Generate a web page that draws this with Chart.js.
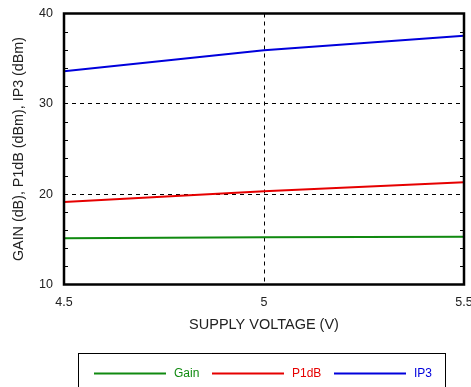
<!DOCTYPE html>
<html lang="en">
<head>
    <meta charset="UTF-8">
    <title>Gain, P1dB, IP3 vs Supply Voltage</title>
    <style>
        html, body {
            margin: 0;
            padding: 0;
            background: #fff;
            overflow: hidden;
        }
        #wrap {
            width: 480px;
            height: 387px;
        }
    </style>
</head>
<body>
    <div id="wrap">
        <canvas id="supplyChart" width="480" height="387"></canvas>
    </div>

    <script src="https://cdn.jsdelivr.net/npm/chart.js"></script>
    <script>
        // supply voltage sweep (V)
        const voltages = [4.5, 5, 5.5];
        // measured results
        const gainDb = [15.12, 15.22, 15.28];
        const p1dbDbm = [19.13, 20.31, 21.31];
        const ip3Dbm = [33.6, 35.92, 37.54];

        const seriesNames = ['Gain', 'P1dB', 'IP3'];
        const seriesColors = ['#108a10', '#e60000', '#0000dc'];

        const xTicks = [4.5, 5, 5.5];
        const yTicks = [10, 20, 30, 40];

        function toPoints(ys) {
            return voltages.map((v, i) => ({ x: v, y: ys[i] }));
        }

        const font = 'Liberation Sans, Arial, Helvetica, sans-serif';

        // frame, inward minor ticks and the boxed legend
        const framePlugin = {
            id: 'framePlugin',
            afterDraw(chart) {
                const ctx = chart.ctx;
                const a = chart.chartArea;
                const ys = chart.scales.y;
                ctx.save();
                ctx.strokeStyle = '#000';
                ctx.lineWidth = 1;
                for (let v = 12; v < 40; v += 2) {
                    if (v % 10 === 0) continue;
                    const py = Math.round(ys.getPixelForValue(v)) + 0.5;
                    ctx.beginPath();
                    ctx.moveTo(a.left, py);
                    ctx.lineTo(a.left + 4, py);
                    ctx.moveTo(a.right, py);
                    ctx.lineTo(a.right - 4, py);
                    ctx.stroke();
                }
                ctx.lineWidth = 2.5;
                ctx.strokeRect(a.left, a.top, a.right - a.left, a.bottom - a.top);

                // legend box
                ctx.lineWidth = 1;
                ctx.strokeRect(78.5, 353.5, 367, 60);
                const items = chart.data.datasets;
                const startX = [94, 212, 334];
                const ly = 373.5;
                ctx.font = '12px ' + font;
                ctx.textBaseline = 'middle';
                ctx.textAlign = 'left';
                items.forEach((ds, i) => {
                    ctx.strokeStyle = ds.borderColor;
                    ctx.lineWidth = 2;
                    ctx.beginPath();
                    ctx.moveTo(startX[i], ly);
                    ctx.lineTo(startX[i] + 72, ly);
                    ctx.stroke();
                    ctx.fillStyle = ds.borderColor;
                    ctx.fillText(ds.label, startX[i] + 80, ly);
                });
                ctx.restore();
            }
        };

        function gridColor(list) {
            return (c) => {
                const v = c.tick ? c.tick.value : null;
                return list.includes(v) ? '#000' : 'rgba(0,0,0,0)';
            };
        }

        // keep tick labels from pushing the plot area around
        function noScalePadding(s) {
            s.paddingLeft = 0;
            s.paddingRight = 0;
            s.paddingTop = 0;
            s.paddingBottom = 0;
        }

        window.onload = function() {
            const ctx = document.getElementById('supplyChart').getContext('2d');
            new Chart(ctx, {
                type: 'line',
                data: {
                    datasets: [gainDb, p1dbDbm, ip3Dbm].map((ys, i) => ({
                        label: seriesNames[i],
                        data: toPoints(ys),
                        borderColor: seriesColors[i],
                        backgroundColor: seriesColors[i],
                        borderWidth: 2,
                        pointRadius: 0,
                        tension: 0,
                        fill: false
                    }))
                },
                options: {
                    responsive: false,
                    animation: false,
                    layout: {
                        padding: { left: 0, top: 13.5, right: 16, bottom: 0 }
                    },
                    plugins: {
                        legend: { display: false },
                        tooltip: { enabled: false }
                    },
                    scales: {
                        x: {
                            type: 'linear',
                            min: 4.5,
                            max: 5.5,
                            afterBuildTicks: (s) => { s.ticks = xTicks.map(v => ({ value: v })); },
                            afterFit: (s) => { s.height = 102.5; noScalePadding(s); },
                            ticks: {
                                color: '#222',
                                font: { family: font, size: 12.5 },
                                padding: 11,
                                maxRotation: 0,
                                autoSkip: false,
                                callback: (v) => String(v)
                            },
                            grid: {
                                color: gridColor([5]),
                                lineWidth: 1,
                                drawTicks: false
                            },
                            border: { display: false, dash: [4, 4] },
                            title: {
                                display: true,
                                text: 'SUPPLY VOLTAGE (V)',
                                color: '#222',
                                font: { family: font, size: 14.5 },
                                padding: { top: 0, bottom: 53 }
                            }
                        },
                        y: {
                            min: 10,
                            max: 40,
                            afterBuildTicks: (s) => { s.ticks = yTicks.map(v => ({ value: v })); },
                            afterFit: (s) => { s.width = 64; noScalePadding(s); },
                            ticks: {
                                color: '#222',
                                font: { family: font, size: 12.5 },
                                padding: 11
                            },
                            grid: {
                                color: gridColor([20, 30]),
                                lineWidth: 1,
                                drawTicks: false
                            },
                            border: { display: false, dash: [4, 4] },
                            title: {
                                display: true,
                                text: 'GAIN (dB), P1dB (dBm), IP3 (dBm)',
                                color: '#222',
                                font: { family: font, size: 14.3 },
                                padding: { top: 10.5, bottom: 0 }
                            }
                        }
                    }
                },
                plugins: [framePlugin]
            });
        };
    </script>
</body>
</html>
